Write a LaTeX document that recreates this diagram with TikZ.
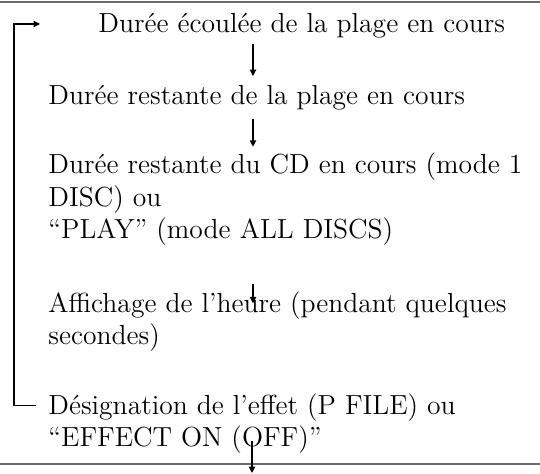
\documentclass[tikz,border=0pt]{standalone}
\usetikzlibrary{calc,arrows.meta}

\definecolor{rulegray}{rgb}{0.42,0.42,0.42}
\tikzset{
  entry/.style={anchor=base west, inner sep=0pt, align=left,
    font=\fontsize{13.8}{16.3}\selectfont},
  flow/.style={-{Triangle[length=3.2pt,width=3.2pt]}, line width=0.55pt},
  rule/.style={draw=rulegray, line width=1pt}
}

\begin{document}
\begin{tikzpicture}[x=0.5pt,y=-0.5pt]
  \useasboundingbox (0,0) rectangle (540,474);

  % rules above and below the list
  \draw[rule] (0,2) -- (540,2);
  \draw[rule] (0,464) -- (540,464);

  % column of the arrows and the return loop
  \coordinate (axis) at (253,0);
  \coordinate (rail) at (14,24);
  \coordinate (loopend) at (40,24);
  \coordinate (exit) at (252,473);

  % display items (base = last line)
  \node[entry] (elapsed) at (98,33) {Durée écoulée de la plage en cours};
  \node[entry] (remtrack) at (48,105) {Durée restante de la plage en cours};
  \node[entry] (remdisc) at (48,239) {Durée restante du CD en cours (mode 1\\DISC) ou\\“PLAY” (mode ALL DISCS)};
  \node[entry] (clock) at (48,345) {Affichage de l’heure (pendant quelques\\secondes)};
  \node[entry] (effect) at (48,447) {Désignation de l’effet (P FILE) ou\\“EFFECT ON (OFF)”};

  % arrows between the items
  \draw[flow] ($(elapsed.base -| axis)+(0,11)$) -- ($(remtrack.base -| axis)+(0,-29)$);
  \draw[flow] ($(remtrack.base -| axis)+(0,14)$) -- ($(remdisc.north -| axis)+(0,-6)$);
  \draw[flow] ($(remdisc.south -| axis)+(0,38)$) -- ($(clock.north -| axis)+(0,12)$);
  \draw[flow] ($(effect.south -| exit)+(0,-13)$) -- (exit);

  % back to the first item
  \draw[flow] ($(effect.north west)+(-12,12.5)$) -| (rail) -- (loopend);
\end{tikzpicture}
\end{document}
